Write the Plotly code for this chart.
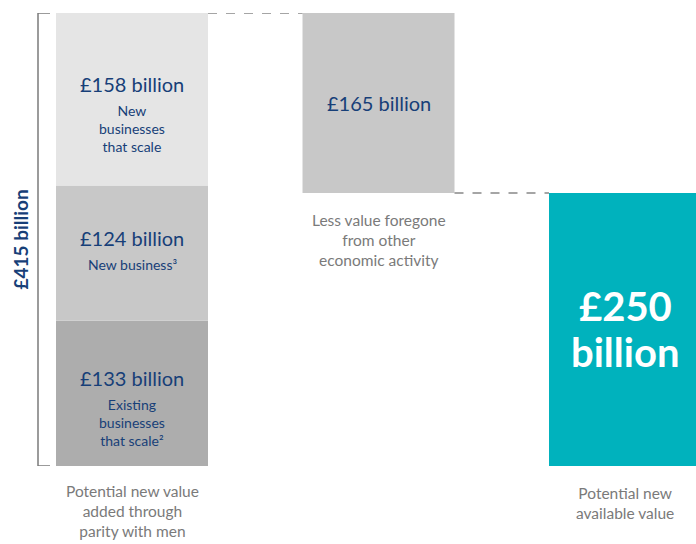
import plotly.graph_objects as go

# ---- data ----
segment_values = [133, 124, 158]          # stacked components of the left bar (bottom -> top)
segment_titles = ["£133 billion", "£124 billion", "£158 billion"]
segment_subs = ["Existing<br>businesses<br>that scale²", "New business³", "New<br>businesses<br>that scale"]
segment_colors = ["#adadad", "#c8c8c8", "#e5e5e5"]
foregone_value = 165
available_value = 250
categories = ["Potential new value<br>added through<br>parity with men",
              "Less value foregone<br>from other<br>economic activity",
              "Potential new<br>available value"]
total_label = "£415 billion"

NAVY = "#173f78"
GREY_TXT = "#7a7a7a"
TEAL = "#00b2bd"
FONT = "Lato"

total = sum(segment_values)
W = 0.6166  # bar width in category units

fig = go.Figure()

# left stacked bar
base = 0
bases = []
for v, c in zip(segment_values, segment_colors):
    fig.add_trace(go.Bar(x=[0], y=[v], base=[base], width=W, marker=dict(color=c, line=dict(width=0)),
                         hoverinfo="skip", showlegend=False))
    bases.append(base)
    base += v

# middle floating bar
fig.add_trace(go.Bar(x=[1], y=[foregone_value], base=[total - foregone_value], width=W,
                     marker=dict(color="#c8c8c8", line=dict(width=0)), hoverinfo="skip", showlegend=False))
# right bar
fig.add_trace(go.Bar(x=[2], y=[available_value], base=[0], width=W,
                     marker=dict(color=TEAL, line=dict(width=0)), hoverinfo="skip", showlegend=False))

ann = []
# labels inside left segments
for b, v, t, s in zip(bases, segment_values, segment_titles, segment_subs):
    mid = b + v / 2
    ann.append(dict(x=0, y=mid, text=t, showarrow=False, yanchor="bottom", yshift=1,
                    font=dict(family=FONT, size=20, color=NAVY)))
    ann.append(dict(x=0, y=mid, text=s, showarrow=False, yanchor="top", yshift=-1,
                    font=dict(family=FONT, size=14, color=NAVY)))

# middle bar label
ann.append(dict(x=1, y=total - foregone_value / 2, text=f"£{foregone_value} billion", showarrow=False,
                font=dict(family=FONT, size=20, color=NAVY)))
# right bar label (two lines, tight spacing)
ann.append(dict(x=2, y=available_value / 2, text=f"<b>£{available_value}</b>", showarrow=False,
                yshift=24, font=dict(family=FONT, size=40, color="white")))
ann.append(dict(x=2, y=available_value / 2, text="<b>billion</b>", showarrow=False,
                yshift=-22, font=dict(family=FONT, size=40, color="white")))

# category labels
ann.append(dict(x=0, y=0, text=categories[0], showarrow=False, yanchor="top", yshift=-14,
                font=dict(family=FONT, size=15.5, color=GREY_TXT)))
ann.append(dict(x=1, y=total - foregone_value, text=categories[1], showarrow=False, yanchor="top", yshift=-16,
                font=dict(family=FONT, size=15.5, color=GREY_TXT)))
ann.append(dict(x=2, y=0, text=categories[2], showarrow=False, yanchor="top", yshift=-16,
                font=dict(family=FONT, size=15.5, color=GREY_TXT)))

# total label (rotated)
ann.append(dict(x=20 / 696, xref="paper", xanchor="center", yanchor="middle", y=total / 2,
                text=f"<b>{total_label}</b>", showarrow=False,
                textangle=-90, font=dict(family=FONT, size=19, color=NAVY)))

shapes = []
bx = 38 / 696
tx = 50 / 696
LC = "#7a7a7a"
shapes.append(dict(type="line", xref="paper", yref="y", x0=bx, x1=bx, y0=0, y1=total,
                   line=dict(color=LC, width=1.5)))
shapes.append(dict(type="line", xref="paper", yref="y", x0=bx, x1=tx, y0=total, y1=total,
                   line=dict(color=LC, width=1.5)))
shapes.append(dict(type="line", xref="paper", yref="y", x0=bx, x1=tx, y0=0, y1=0,
                   line=dict(color=LC, width=1.5)))
# dashed connectors
shapes.append(dict(type="line", xref="x", yref="y", x0=W / 2, x1=1 - W / 2, y0=total, y1=total,
                   line=dict(color="#888888", width=1.5, dash="dash")))
shapes.append(dict(type="line", xref="x", yref="y", x0=1 + W / 2, x1=2 - W / 2,
                   y0=total - foregone_value, y1=total - foregone_value,
                   line=dict(color="#888888", width=1.5, dash="dash")))

fig.update_layout(
    width=696, height=544,
    margin=dict(l=0, r=0, t=13, b=78),
    paper_bgcolor="white", plot_bgcolor="white",
    barmode="overlay",
    annotations=ann, shapes=shapes,
    xaxis=dict(range=[-0.5355, 2.288], visible=False, fixedrange=True),
    yaxis=dict(range=[0, total], visible=False, fixedrange=True),
    showlegend=False,
)

fig.write_html("out.html", config=dict(displayModeBar=False),
               post_script="document.body.style.margin='0px';document.body.style.overflow='hidden';")
